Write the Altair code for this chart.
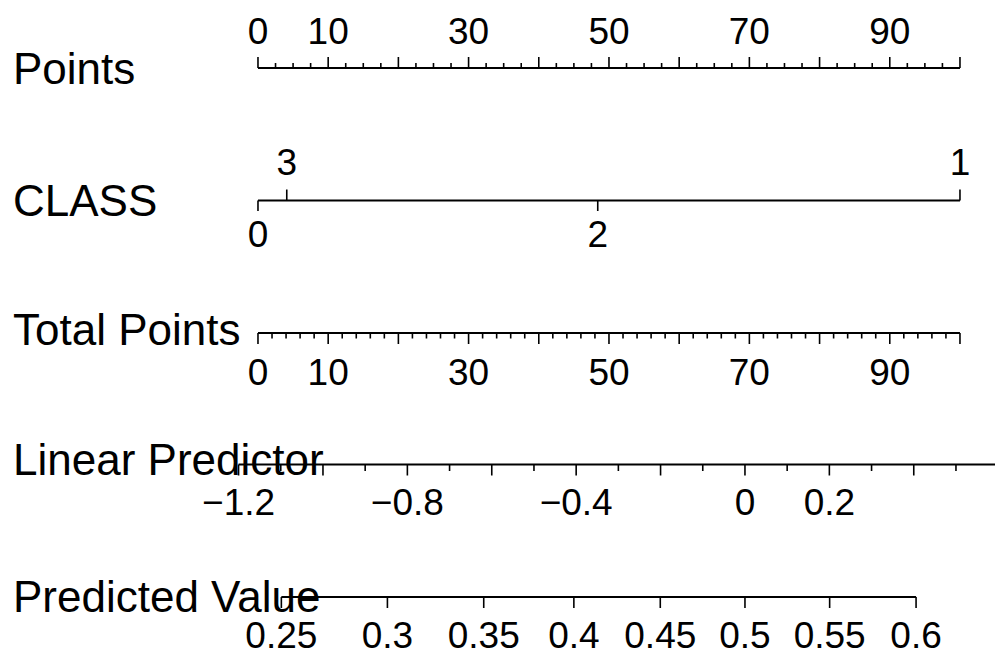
import altair as alt
import pandas as pd
import math

FONT = "Liberation Sans"
TITLE_SIZE = 44
LABEL_SIZE = 37

# ---- nomogram data ----
# linear predictor = LP_AT_ZERO + LP_PER_POINT * points
LP_AT_ZERO = -1.154
LP_PER_POINT = 0.016635

row_titles = ["Points", "CLASS", "Total Points", "Linear Predictor", "Predicted Value"]

points_major = [0, 10, 20, 30, 40, 50, 60, 70, 80, 90, 100]
points_minor_step = 2.5
points_labels = [0, 10, 30, 50, 70, 90]

class_levels = ["0", "3", "2", "1"]
class_points = [0.0, 4.1, 48.4, 100.0]
class_side = ["below", "above", "below", "above"]

total_major = [0, 10, 20, 30, 40, 50, 60, 70, 80, 90, 100]
total_minor_step = 2
total_labels = [0, 10, 30, 50, 70, 90]

lp_short = [-1.1, -0.9, -0.7, -0.5, -0.3, -0.1, 0.1, 0.3, 0.5]
lp_long = [-1.2, -1.0, -0.8, -0.6, -0.4, -0.2, 0.0, 0.2, 0.4]
lp_labels = [-1.2, -0.8, -0.4, 0.0, 0.2]
lp_range = [-1.2, 0.65]

pv_ticks = [0.25, 0.3, 0.35, 0.4, 0.45, 0.5, 0.55, 0.6]
pv_labels = [0.25, 0.3, 0.35, 0.4, 0.45, 0.5, 0.55, 0.6]
pv_range = [0.25, 0.6]

# ---- helpers ----
def lp_to_pts(v):
    return (v - LP_AT_ZERO) / LP_PER_POINT

def pv_to_pts(p):
    return lp_to_pts(math.log(p / (1 - p)))

def fmt(v):
    s = f"{abs(v):g}"
    return ("\u2212" + s) if v < 0 else s

XS = alt.Scale(domain=[-36.75, 104.99], range=[0, 995], nice=False, zero=False)
BLACK = "#000000"

def hline(x1, x2, y):
    df = pd.DataFrame({"x": [x1], "x2": [x2]})
    return alt.Chart(df).mark_rule(color=BLACK, strokeWidth=2).encode(
        x=alt.X("x:Q", scale=XS, axis=None), x2="x2:Q", y=alt.value(y))

def ticks(vals, y1, y2, w=1.6):
    df = pd.DataFrame({"x": vals})
    return alt.Chart(df).mark_rule(color=BLACK, strokeWidth=w).encode(
        x=alt.X("x:Q", scale=XS, axis=None), y=alt.value(y1), y2=alt.value(y2))

def labels(vals, texts, y):
    df = pd.DataFrame({"x": vals, "t": texts})
    return alt.Chart(df).mark_text(font=FONT, fontSize=LABEL_SIZE, align="center",
                                   baseline="alphabetic", color=BLACK).encode(
        x=alt.X("x:Q", scale=XS, axis=None), y=alt.value(y), text="t:N")

def title(t, y):
    df = pd.DataFrame({"t": [t]})
    return alt.Chart(df).mark_text(font=FONT, fontSize=TITLE_SIZE, align="left",
                                   baseline="alphabetic", color=BLACK).encode(
        x=alt.value(13), y=alt.value(y), text="t:N")

layers = []

# Points row
p_minor = [i * points_minor_step for i in range(int(100 / points_minor_step) + 1)]
p_minor = [v for v in p_minor if v not in points_major]
layers += [
    hline(points_major[0], points_major[-1], 68),
    ticks(points_major, 57, 68),
    ticks(p_minor, 63, 68),
    labels(points_labels, [fmt(v) for v in points_labels], 44),
    title(row_titles[0], 84),
]

# CLASS row
above = [(p, l) for p, l, s in zip(class_points, class_levels, class_side) if s == "above"]
below = [(p, l) for p, l, s in zip(class_points, class_levels, class_side) if s == "below"]
layers += [
    hline(min(class_points), max(class_points), 200.5),
    ticks([p for p, _ in above], 189.5, 200.5),
    ticks([p for p, _ in below], 200.5, 211),
    labels([p for p, _ in above], [l for _, l in above], 175),
    labels([p for p, _ in below], [l for _, l in below], 247),
    title(row_titles[1], 216),
]

# Total Points row
t_minor = [i * total_minor_step for i in range(int(100 / total_minor_step) + 1)]
t_minor = [v for v in t_minor if v not in total_major]
layers += [
    hline(total_major[0], total_major[-1], 333),
    ticks(total_major, 333, 344),
    ticks(t_minor, 333, 338.5),
    labels(total_labels, [fmt(v) for v in total_labels], 385),
    title(row_titles[2], 345),
]

# Linear Predictor row
layers += [
    hline(lp_to_pts(lp_range[0]), lp_to_pts(lp_range[1]), 464.5),
    ticks([lp_to_pts(v) for v in lp_long], 464.5, 475.5),
    ticks([lp_to_pts(v) for v in lp_short], 464.5, 471),
    labels([lp_to_pts(v) for v in lp_labels], [fmt(v) for v in lp_labels], 515),
    title(row_titles[3], 475),
]

# Predicted Value row
layers += [
    hline(pv_to_pts(pv_range[0]), pv_to_pts(pv_range[1]), 597),
    ticks([pv_to_pts(v) for v in pv_ticks], 597, 608),
    labels([pv_to_pts(v) for v in pv_labels], [fmt(v) for v in pv_labels], 648),
    title(row_titles[4], 611.5),
]

chart = alt.layer(*layers).properties(
    width=995, height=659, padding=0,
    autosize=alt.AutoSizeParams(type="none"),
    background="white",
).configure_view(stroke=None)

chart.save("out.html", embed_options={"renderer": "svg", "actions": False})
